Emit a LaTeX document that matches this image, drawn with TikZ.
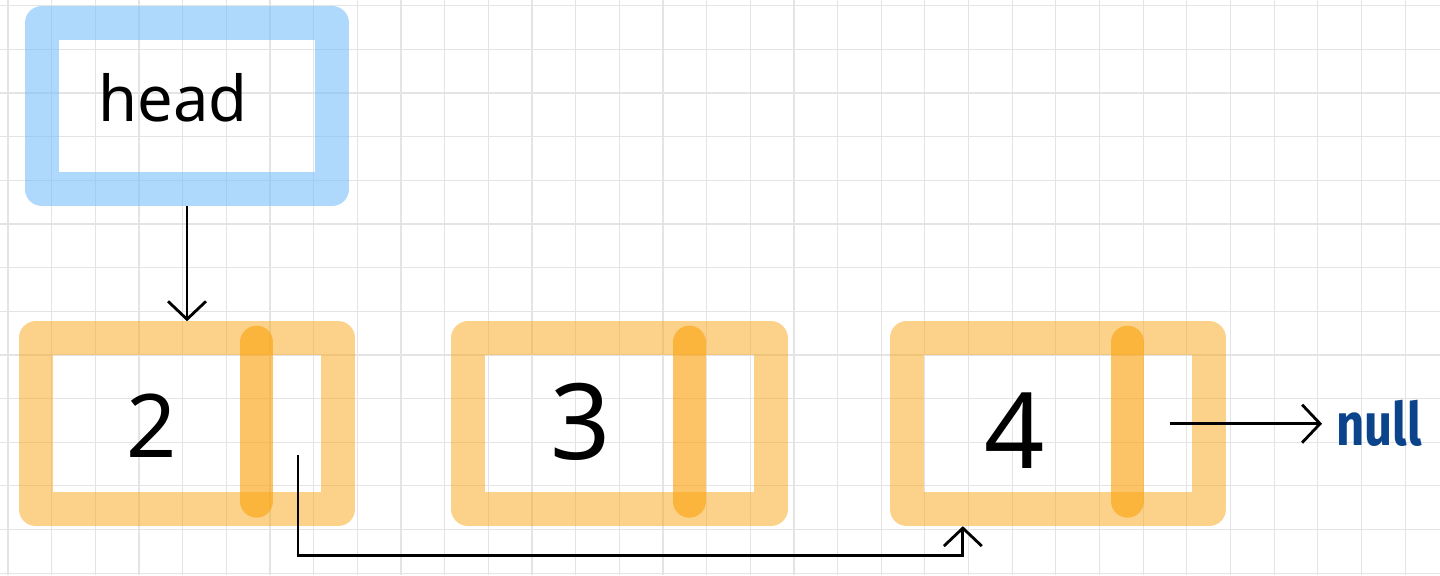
\documentclass[tikz,border=0pt]{standalone}
\usepackage{fontspec}
\setmainfont{Noto Sans}
\newfontfamily\nilfont{Fira Sans}
\usepackage{xcolor}
\usetikzlibrary{arrows.meta, positioning}

\definecolor{headblue}{RGB}{120,190,250}
\definecolor{nodeorange}{RGB}{251,165,20}
\definecolor{nullblue}{RGB}{12,68,140}
\definecolor{gridgray}{RGB}{228,228,228}

\begin{document}
\begin{tikzpicture}[
    x=0.02cm, y=-0.02cm,
    gridline/.style={draw=gridgray, line width=0.7pt},
    headbox/.style={rectangle, draw=headblue, draw opacity=0.6, line width=0.68cm, line join=round, minimum width=5.8cm, minimum height=3.33cm, inner sep=0pt},
    listbox/.style={rectangle, draw=nodeorange, draw opacity=0.5, line width=0.68cm, line join=round, minimum width=6.05cm, minimum height=3.42cm, inner sep=0pt},
    divider/.style={draw=nodeorange, draw opacity=0.65, line width=0.66cm, line cap=round},
    val/.style={font=\fontsize{60}{60}\selectfont, inner sep=0pt},
    ptr/.style={line width=1.6pt, -{Straight Barb[length=0.36cm, width=0.76cm, line width=1.6pt]}}
]
    % Paper
    \fill[white] (0,0) rectangle (1440,575);
    \useasboundingbox (0,0) rectangle (1440,575);
    \foreach \i in {0,...,32}
        \draw[gridline] ({8+43.66*\i},0) -- ({8+43.66*\i},575);
    \foreach \j in {0,...,13}
        \draw[gridline] (0,{5.6+43.66*\j}) -- (1440,{5.6+43.66*\j});

    % Nodes
    \node (head) [headbox] at (187,106) {};
    \node (headtxt) [anchor=base, font=\fontsize{36}{36}\selectfont, inner sep=0pt] at ([xshift=-0.28cm, yshift=-0.32cm]head.center) {head};
    \node (n2) [listbox, below=2.3cm of head] {};
    \node (n3) [listbox, right=1.92cm of n2] {};
    \node (n4) [listbox, right=2.04cm of n3] {};

    % Next fields
    \draw[divider] ([xshift=4.76cm, yshift=-0.42cm]n2.north west) -- ([xshift=4.76cm, yshift=0.5cm]n2.south west);
    \draw[divider] ([xshift=4.76cm, yshift=-0.42cm]n3.north west) -- ([xshift=4.76cm, yshift=0.5cm]n3.south west);
    \draw[divider] ([xshift=4.76cm, yshift=-0.42cm]n4.north west) -- ([xshift=4.76cm, yshift=0.5cm]n4.south west);

    % Values
    \node (v2) [val, font=\fontsize{50}{50}\selectfont] at ([xshift=-0.7cm, yshift=-0.05cm]n2.center) {2};
    \node (v3) [val] at ([xshift=-0.78cm, yshift=0.04cm]n3.center) {3};
    \node (v4) [val] at ([xshift=-0.86cm, yshift=-0.14cm]n4.center) {4};

    % Pointers
    \coordinate (p2) at ([xshift=2.22cm, yshift=-0.63cm]n2.center);
    \coordinate (p4) at ([xshift=-1.12cm]n4.east);
    \node (nul) [right=3.04cm of p4, inner sep=0.28cm, text=nullblue, font=\nilfont\bfseries\fontsize{34}{34}\selectfont] {\scalebox{0.82}[1]{null}};

    % Arrows
    \draw[ptr] (head) -- (n2);
    \draw[ptr] (p2) -- ++(0,100) -| ([xshift=-1.9cm]n4.south);
    \draw[ptr] (p4) -- (nul.west);

\end{tikzpicture}
\end{document}
